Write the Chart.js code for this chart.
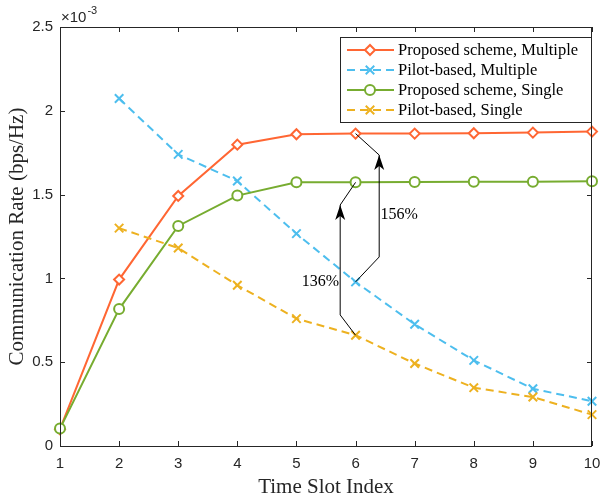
<!DOCTYPE html>
<html>
<head>
<meta charset="utf-8">
<script src="https://cdn.jsdelivr.net/npm/chart.js@4.4.1/dist/chart.umd.min.js"></script>
<style>
  html, body { margin: 0; padding: 0; background: #fff; }
</style>
</head>
<body>
<canvas id="chart" width="600" height="500"></canvas>
<script>
// values are in units of 1e-3 bps/Hz
const slots = [1, 2, 3, 4, 5, 6, 7, 8, 9, 10];
const proposedMultiple = [0.10, 0.993, 1.492, 1.798, 1.860, 1.864, 1.864, 1.866, 1.870, 1.876];
const pilotMultiple = [null, 2.073, 1.740, 1.581, 1.267, 0.979, 0.726, 0.511, 0.342, 0.267];
const proposedSingle = [0.104, 0.817, 1.313, 1.494, 1.573, 1.573, 1.575, 1.576, 1.577, 1.579];
const pilotSingle = [null, 1.300, 1.181, 0.959, 0.760, 0.661, 0.492, 0.348, 0.292, 0.187];
const seriesNames = [
  "Proposed scheme, Multiple",
  "Pilot-based, Multiple",
  "Proposed scheme, Single",
  "Pilot-based, Single",
];
const xTicks = [1, 2, 3, 4, 5, 6, 7, 8, 9, 10];
const yTicks = [0, 0.5, 1, 1.5, 2, 2.5];

// gain annotations (data coordinates): start point, bend, arrow tip, end point
const gainLabels = ["156%", "136%"];
const gainPaths = [
  [[6, 0.979], [6.40, 1.128], [6.40, 1.736], [6, 1.864]],
  [[6, 0.661], [5.74, 0.782], [5.74, 1.438], [6, 1.573]],
];
const gainLabelPos = [[6.42, 1.378, "left"], [5.72, 0.979, "right"]];

const AXIS = "#262626";
const toPoints = (ys) => slots.map((x, i) => ({ x, y: ys[i] }));

// later series are drawn on top, like the original plot
const makeSet = (label, data, color, style, dashed, order) => ({
  label,
  data: toPoints(data),
  order,
  borderColor: color,
  backgroundColor: "#fff",
  borderWidth: 2,
  borderDash: dashed ? [8, 5] : [],
  pointStyle: style,
  pointRadius: style === "crossRot" ? 6 : 5,
  pointBorderWidth: 2,
  pointBackgroundColor: "#fff",
  pointBorderColor: color,
  tension: 0,
  fill: false,
  clip: false,
});

const datasets = [
  makeSet(seriesNames[0], proposedMultiple, "#FF6633", "rectRot", false, 3),
  makeSet(seriesNames[1], pilotMultiple, "#4DBEEE", "crossRot", true, 2),
  makeSet(seriesNames[2], proposedSingle, "#77AC30", "circle", false, 1),
  makeSet(seriesNames[3], pilotSingle, "#EDB120", "crossRot", true, 0),
];

const frame = {
  id: "frame",
  afterDatasetsDraw(chart) {
    const { ctx, chartArea: a, scales: { x, y } } = chart;
    ctx.save();

    // box and inward ticks
    ctx.strokeStyle = AXIS;
    ctx.lineWidth = 1;
    ctx.strokeRect(a.left + 0.5, a.top + 0.5, a.right - a.left - 1, a.bottom - a.top);
    ctx.beginPath();
    xTicks.forEach((v) => {
      const px = Math.round(x.getPixelForValue(v)) + 0.5;
      ctx.moveTo(px, a.bottom); ctx.lineTo(px, a.bottom - 5);
      ctx.moveTo(px, a.top); ctx.lineTo(px, a.top + 5);
    });
    yTicks.forEach((v) => {
      const py = Math.round(y.getPixelForValue(v)) + 0.5;
      ctx.moveTo(a.left, py); ctx.lineTo(a.left + 5, py);
      ctx.moveTo(a.right, py); ctx.lineTo(a.right - 5, py);
    });
    ctx.stroke();

    // exponent label
    ctx.fillStyle = AXIS;
    ctx.textBaseline = "alphabetic";
    ctx.textAlign = "left";
    ctx.font = "15px 'Liberation Sans'";
    ctx.fillText("\u00d710", a.left + 1, a.top - 5);
    const w = ctx.measureText("\u00d710").width;
    ctx.font = "11px 'Liberation Sans'";
    ctx.fillText("-3", a.left + 2 + w, a.top - 13);

    // gain arrows
    ctx.strokeStyle = "#000";
    ctx.fillStyle = "#000";
    ctx.lineWidth = 1;
    gainPaths.forEach((path, i) => {
      const p = path.map(([vx, vy]) => [x.getPixelForValue(vx), y.getPixelForValue(vy)]);
      ctx.beginPath();
      ctx.moveTo(p[0][0], p[0][1]);
      ctx.lineTo(p[1][0], p[1][1]);
      ctx.lineTo(p[2][0], p[2][1]);
      ctx.moveTo(p[2][0], p[2][1]);
      ctx.lineTo(p[3][0], p[3][1]);
      ctx.stroke();
      // arrow head pointing up
      const [tx, ty] = p[2];
      ctx.beginPath();
      ctx.moveTo(tx, ty);
      ctx.lineTo(tx + 5, ty + 15);
      ctx.lineTo(tx, ty + 11);
      ctx.lineTo(tx - 5, ty + 15);
      ctx.closePath();
      ctx.fill();

      const [lx, ly, al] = gainLabelPos[i];
      ctx.font = "16px 'Liberation Serif'";
      ctx.textAlign = al;
      ctx.textBaseline = "middle";
      ctx.fillText(gainLabels[i], x.getPixelForValue(lx), y.getPixelForValue(ly));
    });

    // legend
    const bx = 340, by = 37, bw = 251, bh = 85;
    ctx.fillStyle = "#fff";
    ctx.fillRect(bx, by, bw, bh);
    ctx.strokeStyle = AXIS;
    ctx.strokeRect(bx + 0.5, by + 0.5, bw, bh);
    chart.data.datasets.forEach((ds, i) => {
      const ry = by + 13 + i * 20;
      ctx.strokeStyle = ds.borderColor;
      ctx.lineWidth = 2;
      ctx.setLineDash(ds.borderDash);
      ctx.beginPath();
      ctx.moveTo(bx + 7, ry);
      ctx.lineTo(bx + 54, ry);
      ctx.stroke();
      ctx.setLineDash([]);
      ctx.fillStyle = "#fff";
      Chart.helpers.drawPoint(ctx, {
        pointStyle: ds.pointStyle,
        radius: ds.pointRadius,
        rotation: 0,
        borderWidth: 2,
      }, bx + 30, ry);
      ctx.fillStyle = "#000";
      ctx.font = "16.5px 'Liberation Serif'";
      ctx.textAlign = "left";
      ctx.textBaseline = "middle";
      ctx.fillText(ds.label, bx + 58, ry + 1);
    });
    ctx.restore();
  },
};

new Chart(document.getElementById("chart"), {
  type: "line",
  data: { datasets },
  plugins: [frame],
  options: {
    responsive: false,
    animation: false,
    devicePixelRatio: 1,
    layout: { padding: { top: 27, right: 8, left: 0, bottom: 0 } },
    plugins: { legend: { display: false }, tooltip: { enabled: false } },
    scales: {
      x: {
        type: "linear",
        min: 1,
        max: 10,
        afterBuildTicks: (s) => { s.ticks = xTicks.map((v) => ({ value: v })); },
        afterFit: (s) => { s.height = 54; s.paddingLeft = 0; s.paddingRight = 0; },
        grid: { display: false, drawTicks: false },
        border: { display: false },
        ticks: {
          padding: 9,
          color: AXIS,
          font: { family: "Liberation Sans", size: 15 },
          callback: (v) => String(v),
        },
        title: {
          display: true,
          text: "Time Slot Index",
          color: AXIS,
          font: { family: "Liberation Serif", size: 21 },
          padding: { top: 0, bottom: 0 },
        },
      },
      y: {
        type: "linear",
        min: 0,
        max: 2.5,
        afterBuildTicks: (s) => { s.ticks = yTicks.map((v) => ({ value: v })); },
        afterFit: (s) => { s.width = 60; s.paddingTop = 0; s.paddingBottom = 0; },
        grid: { display: false, drawTicks: false },
        border: { display: false },
        ticks: {
          padding: 7,
          color: AXIS,
          font: { family: "Liberation Sans", size: 15 },
          callback: (v) => String(v),
        },
        title: {
          display: true,
          text: "Communication Rate (bps/Hz)",
          color: AXIS,
          font: { family: "Liberation Serif", size: 21 },
          padding: { top: 5, bottom: 0 },
        },
      },
    },
  },
});
</script>
</body>
</html>
